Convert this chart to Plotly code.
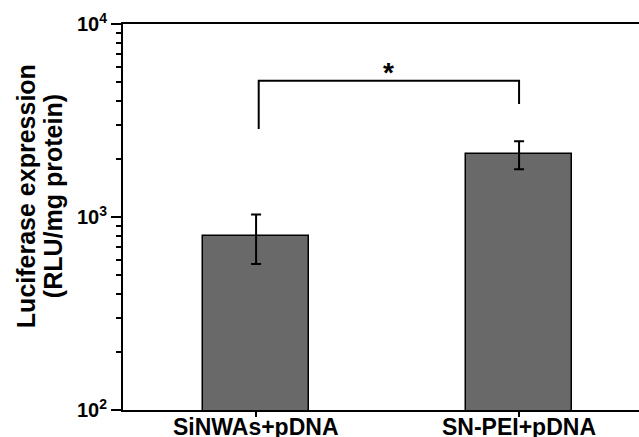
import math
import plotly.graph_objects as go

categories = ["SiNWAs+pDNA", "SN-PEI+pDNA"]
values = [800, 2120]
errors = [230, 350]
y_tick_vals = [100, 1000, 10000]
y_tick_text = ["10<sup>2</sup>", "10<sup>3</sup>", "10<sup>4</sup>"]
bracket_x = [0.01, 0.01, 1, 1]
bracket_y = [2858, 5082, 5082, 3850]
sig_label = "*"
title_lines = ["Luciferase expression", "(RLU/mg protein)"]

minor_vals = [m * d for d in (100, 1000) for m in range(2, 10)]
positions = list(range(len(categories)))

FONT = "Liberation Sans, Arial, sans-serif"

fig = go.Figure()
fig.add_trace(go.Bar(
    x=positions, y=values, width=0.403,
    marker=dict(color="#696969", line=dict(color="black", width=1.5)),
    error_y=dict(type="data", array=errors, visible=True, color="black",
                 thickness=2, width=5),
    showlegend=False,
))
fig.add_trace(go.Scatter(
    x=bracket_x, y=bracket_y, mode="lines",
    line=dict(color="black", width=2), showlegend=False, hoverinfo="skip",
))

fig.update_layout(
    width=639, height=437,
    margin=dict(l=123, r=0, t=24, b=27, autoexpand=False),
    plot_bgcolor="white", paper_bgcolor="white",
    font=dict(family=FONT, color="black"),
    bargap=0,
)
fig.update_xaxes(
    range=[-0.506, 1.456], automargin=False,
    tickmode="array", tickvals=positions, ticktext=categories,
    showticklabels=False,
    ticks="outside", ticklen=5, tickwidth=1.5, tickcolor="black",
    showline=True, linecolor="black", linewidth=2, mirror=True,
    showgrid=False, zeroline=False,
)
fig.update_yaxes(
    type="log", range=[2, 4], automargin=False,
    tickmode="array", tickvals=y_tick_vals, ticktext=y_tick_text,
    ticks="outside", ticklen=10, tickwidth=2, tickcolor="black",
    minor=dict(ticks="outside", ticklen=5, tickwidth=1.5, tickcolor="black",
               tickmode="array", tickvals=minor_vals, showgrid=False),
    showline=True, linecolor="black", linewidth=2, mirror=False,
    showgrid=False, zeroline=False,
    tickfont=dict(size=20, weight="bold", family=FONT),
)

for pos, cat in zip(positions, categories):
    fig.add_annotation(x=pos, y=0, xref="x", yref="paper", text=cat,
                       showarrow=False, yanchor="top", yshift=-2,
                       font=dict(size=23, weight="bold", family=FONT))

fig.add_annotation(x=0.505, y=math.log10(bracket_y[1]), xref="x", yref="y",
                   text=sig_label, showarrow=False, yanchor="bottom", yshift=-9,
                   font=dict(size=28, weight="bold", family=FONT))
fig.add_annotation(x=-0.188, y=0.554, xref="paper", yref="paper",
                   text=title_lines[0], textangle=-90, showarrow=False,
                   xanchor="center", yanchor="middle",
                   font=dict(size=25, weight="bold", family=FONT))
fig.add_annotation(x=-0.1357, y=0.554, xref="paper", yref="paper",
                   text=title_lines[1], textangle=-90, showarrow=False,
                   xanchor="center", yanchor="middle",
                   font=dict(size=25, weight="bold", family=FONT))

fig.write_html("out.html", config={"displayModeBar": False},
               post_script="document.body.style.margin='0px';")
